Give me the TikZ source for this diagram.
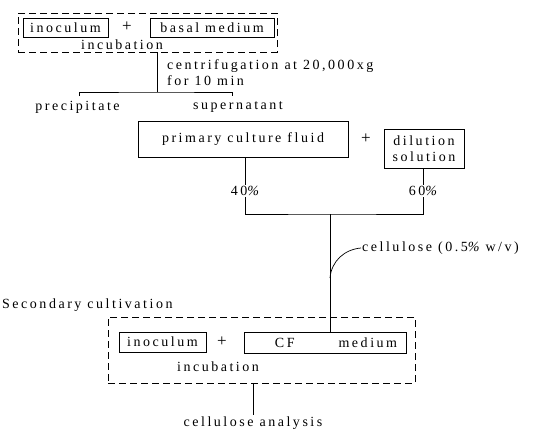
\documentclass[tikz,border=0pt]{standalone}
\usepackage{fontspec}
\setmainfont{Liberation Serif}[LetterSpace=18]
\usetikzlibrary{positioning,calc}

\begin{document}
\begin{tikzpicture}[x=1pt, y=-1pt,
    font=\fontsize{14}{16}\selectfont,
    box/.style={draw, line width=0.6pt, inner sep=0pt, minimum height=#1},
    box/.default=19pt,
    dashbox/.style={draw, dash pattern=on 7pt off 4pt, line width=0.6pt, inner sep=0pt},
    txt/.style={inner sep=1pt},
    plus/.style={inner sep=1pt, font=\fontsize{17}{17}\selectfont},
    line/.style={line width=0.7pt}
  ]
    \useasboundingbox (0,0) rectangle (536,431);

    % First cultivation
    \node[dashbox, minimum width=259pt, minimum height=39pt] (cult1) at (147.5,32.5) {};
    \node[box, minimum width=85pt] (inoc1) at (65.5,27.5) {inoculum};
    \node[plus] (plus1) at (127,27) {+};
    \node[box, minimum width=124pt] (basal) at (212,27.5) {basal medium};
    \node[txt] (incub1) at (122,45) {incubation};

    % Centrifugation
    \coordinate (split) at (157,92);
    \node[txt, anchor=west, align=left] (centri) at (166,73) {centrifugation at 20,000xg\\for 10 min};
    \node[txt] (precip) at (77.5,107) {precipitate};
    \node[txt] (super) at (238,107) {supernatant};
    \coordinate (pt1) at (79,96);
    \coordinate (pt2) at (232,96);

    % Primary culture
    \node[box=36pt, minimum width=210pt] (primary) at (243,139) {primary culture fluid};
    \node[plus] (plus2) at (366,139) {+};
    \node[box=39pt, minimum width=80pt, align=center] (dilut) at (424,148.5) {dilution\\solution};
    \node[txt] (p40) at (245,191) {40{\itshape\%}};
    \node[txt] (p60) at (423,191) {60{\itshape\%}};
    \coordinate (join) at (330,214);
    \coordinate (merge) at (330,278);
    \node[txt, anchor=west] (cellu) at (361,248) {cellulose (0.5{\itshape\%} w/v)};

    % Secondary cultivation
    \node[txt, anchor=west] (second) at (1,305) {Secondary cultivation};
    \node[dashbox, minimum width=307pt, minimum height=66pt] (cult2) at (261.5,350) {};
    \node[box=20pt, minimum width=87pt] (inoc2) at (162.5,342) {inoculum};
    \node[plus] (plus3) at (222,342) {+};
    \node[box=21pt, minimum width=162pt] (cfmed) at (325,342.5) {\hspace*{22pt}CF\hspace*{44pt}medium};
    \node[txt] (incub2) at (218,367) {incubation};
    \node[txt] (anal) at (253,423) {cellulose analysis};

    % Lines
    \draw[line] (cult1.south -| split) -- (split);
    \draw[line] (pt1) |- (split) -| (pt2);
    \draw[line] (primary.south -| p40) -- (p40.north);
    \draw[line] (dilut.south -| p60) -- (p60.north);
    \draw[line] (p40.south) |- (join) -| (p60.south);
    \draw[line] (join) -- (join |- cfmed.north);
    \draw[line] (cellu.west) to[out=185, in=85] (merge);
    \draw[line] (cult2.south -| anal) -- (anal.north);
\end{tikzpicture}
\end{document}
